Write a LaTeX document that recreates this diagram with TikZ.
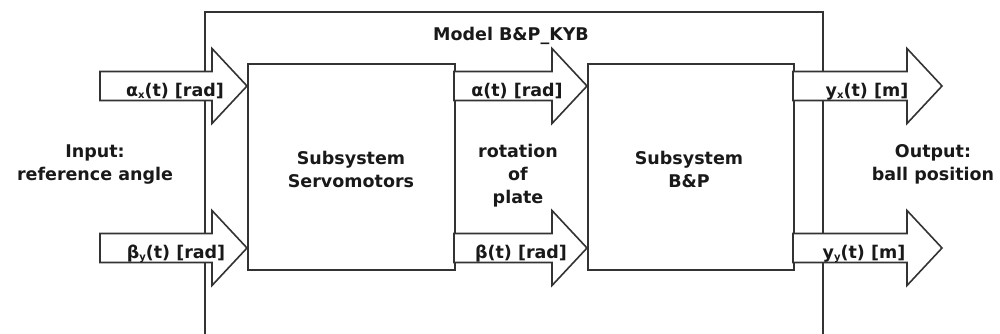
\documentclass[tikz,border=0pt]{standalone}
\usepackage{fontspec}
\setmainfont{DejaVu Sans}
\newcommand\lowsub[1]{\raisebox{-2.5pt}{\fontsize{10}{10}\selectfont #1}}
\newcommand\bigarrow[3]{%
  \draw[arr] (#1,#3-14.5) -- ({#2-35},#3-14.5) -- ({#2-35},#3-37.5) -- (#2,#3)
    -- ({#2-35},#3+37.5) -- ({#2-35},#3+14.5) -- (#1,#3+14.5) -- cycle;}
\begin{document}
\begin{tikzpicture}[x=1pt,y=-1pt,
  lbl/.style={font=\bfseries\fontsize{17.5}{23}\selectfont, text=black!90, inner sep=0pt, align=center},
  blk/.style={draw=black!80, line width=1.6pt, inner sep=0pt},
  arr/.style={draw=black!80, fill=white, line width=1.6pt, line join=miter}]
\useasboundingbox (0,0) rectangle (1000,334);
% outer model box (open at bottom, cut by image edge)
\draw[draw=black!80, line width=1.6pt] (205,334) -- (205,12) -- (823,12) -- (823,334);
% subsystem blocks
\node[blk, minimum width=207pt, minimum height=206pt, anchor=north west] (servo) at (247,63) {};
\node[blk, minimum width=206pt, minimum height=206pt, anchor=north west] (bp) at (587,63) {};
% block arrows
\bigarrow{100}{247}{86}
\bigarrow{100}{247}{248}
\bigarrow{454}{587}{86}
\bigarrow{454}{587}{248}
\bigarrow{793}{942}{86}
\bigarrow{793}{942}{248}
% labels (anchor=base is the baseline of the last line)
\node[lbl, anchor=base] (title) at (511,41) {Model B\&P\_KYB};
\node[lbl, anchor=base] (inp) at (95,180) {Input:\\reference angle};
\node[lbl, anchor=base] (servotxt) at (351,187) {Subsystem\\Servomotors};
\node[lbl, anchor=base] (rot) at (518,203) {rotation\\of\\plate};
\node[lbl, anchor=base] (bptxt) at (689,187) {Subsystem\\B\&P};
\node[lbl, anchor=base] (outp) at (933,180) {Output:\\ball position};
\node[lbl, anchor=base] (ax) at (175,96) {α\lowsub{x}(t) [rad]};
\node[lbl, anchor=base] (by) at (176,258) {β\lowsub{y}(t) [rad]};
\node[lbl, anchor=base] (al) at (517,97) {α(t) [rad]};
\node[lbl, anchor=base] (be) at (521,258) {β(t) [rad]};
\node[lbl, anchor=base] (yx) at (867,96) {y\lowsub{x}(t) [m]};
\node[lbl, anchor=base] (yy) at (864,258) {y\lowsub{y}(t) [m]};
\end{tikzpicture}
\end{document}
